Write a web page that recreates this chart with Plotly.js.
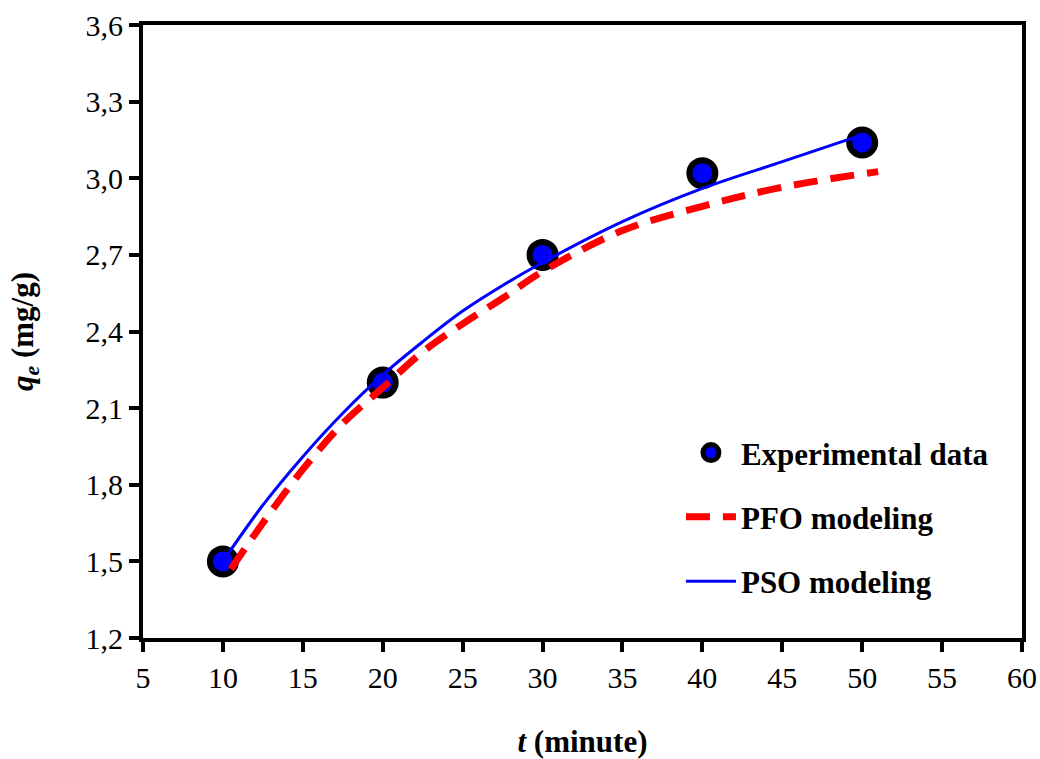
<!DOCTYPE html>
<html>
<head>
<meta charset="utf-8">
<script src="https://cdn.plot.ly/plotly-3.0.1.min.js"></script>
<style>
  html, body { margin: 0; padding: 0; background: #ffffff; }
  #chart { width: 1040px; height: 759px; }
</style>
</head>
<body>
<div id="chart"></div>
<script>
// Contact time (minutes) and adsorbed amount q_e (mg/g)
const tExp = [10, 20, 30, 40, 50];
const qExp = [1.50, 2.20, 2.70, 3.02, 3.14];

// Pseudo-first-order fitted curve
const tPFO = [10.5, 12.5, 15, 17.5, 20, 22.5, 25, 27.5, 30, 35, 40, 45, 51];
const qPFO = [1.47, 1.65, 1.86, 2.04, 2.18, 2.32, 2.43, 2.53, 2.635, 2.795, 2.89, 2.965, 3.026];

// Pseudo-second-order fitted curve
const tPSO = [10, 12.5, 15, 17.5, 20, 22.5, 25, 27.5, 30, 35, 40, 45, 50];
const qPSO = [1.50, 1.72, 1.91, 2.08, 2.23, 2.36, 2.48, 2.58, 2.67, 2.83, 2.96, 3.065, 3.17];

const xTicks = [5, 10, 15, 20, 25, 30, 35, 40, 45, 50, 55, 60];
const yTicks = [1.2, 1.5, 1.8, 2.1, 2.4, 2.7, 3.0, 3.3, 3.6];

const serif = 'Liberation Serif, Times New Roman, serif';

const traces = [
  {
    x: tExp, y: qExp, type: 'scatter', mode: 'markers',
    name: '<b>Experimental data</b>', legendgroup: 'a',
    marker: { size: 26, color: '#0000ff', line: { color: '#000000', width: 6 } }
  },
  {
    x: tPFO, y: qPFO, type: 'scatter', mode: 'lines',
    name: '<b>PFO modeling</b>', legendgroup: 'b',
    line: { color: '#ff0000', width: 7, dash: '24px,13px', shape: 'spline', smoothing: 1 }
  },
  {
    x: tPSO, y: qPSO, type: 'scatter', mode: 'lines',
    name: '<b>PSO modeling</b>', legendgroup: 'c',
    line: { color: '#0000ff', width: 3, shape: 'spline', smoothing: 1 }
  }
];

const axisCommon = {
  showgrid: false, zeroline: false,
  showline: true, linecolor: '#000000', linewidth: 4, mirror: true,
  ticks: 'outside', ticklen: 10, tickwidth: 4, tickcolor: '#000000',
  tickfont: { family: serif, size: 30, color: '#000000' }
};

const layout = {
  width: 1040, height: 759,
  paper_bgcolor: '#ffffff', plot_bgcolor: '#ffffff',
  margin: { l: 143, r: 18, t: 25, b: 121 },
  separators: ', ',
  showlegend: true,
  legend: {
    x: 0.612, y: 0.346, xanchor: 'left', yanchor: 'top',
    bgcolor: 'rgba(0,0,0,0)', borderwidth: 0,
    font: { family: serif, size: 31, color: '#000000' },
    tracegroupgap: 21, itemwidth: 50
  },
  xaxis: Object.assign({}, axisCommon, {
    range: [5, 60], tickmode: 'array', tickvals: xTicks,
    title: { text: '<b><i>t</i> (minute)</b>', font: { family: serif, size: 31, color: '#000000' }, standoff: 40 }
  }),
  yaxis: Object.assign({}, axisCommon, {
    range: [1.2, 3.6], tickmode: 'array', tickvals: yTicks, tickformat: '.1f',
    title: { text: '<b><i>q</i><sub><i>e</i></sub> (mg/g)</b>', font: { family: serif, size: 31, color: '#000000' }, standoff: 44 }
  })
};

Plotly.newPlot('chart', traces, layout, { staticPlot: true, displayModeBar: false });
</script>
</body>
</html>
